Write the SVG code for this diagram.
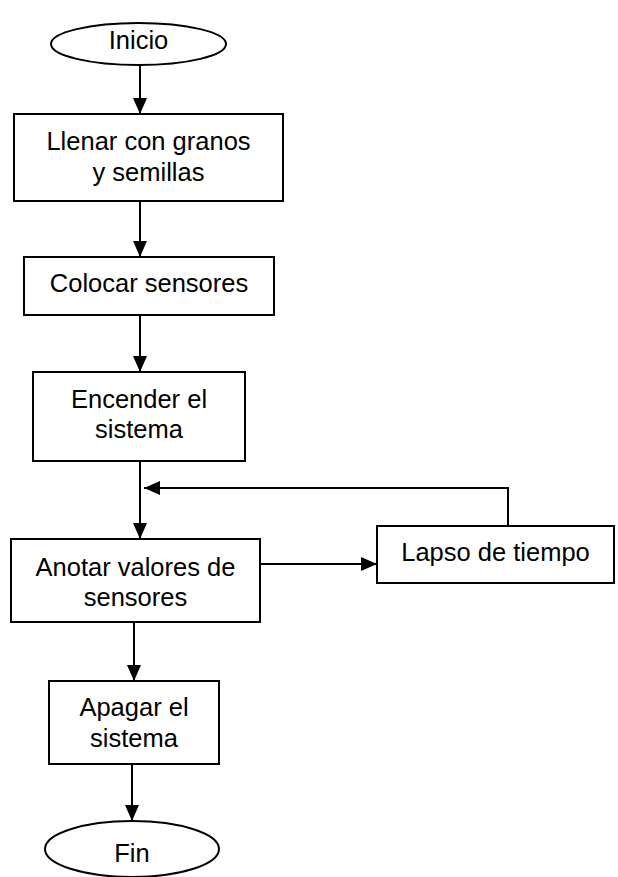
<svg xmlns="http://www.w3.org/2000/svg" width="618" height="877" viewBox="0 0 618 877">
<style>
.s{fill:#fff;stroke:#000;stroke-width:2}
.t{font-family:"Liberation Sans",Arial,sans-serif;font-size:25.5px;fill:#000;text-anchor:middle}
.c{fill:none;stroke:#000;stroke-width:2}
</style>
<defs>
<marker id="ah" markerUnits="userSpaceOnUse" markerWidth="16" markerHeight="14" refX="16" refY="7" orient="auto">
<path d="M0,0 L16,7 L0,14 z" fill="#000"/>
</marker>
</defs>
<rect width="618" height="877" fill="#fff"/>
<g id="connectors">
<path class="c" d="M140,65 V114" marker-end="url(#ah)"/>
<path class="c" d="M140,201 V257" marker-end="url(#ah)"/>
<path class="c" d="M140,315 V372" marker-end="url(#ah)"/>
<path class="c" d="M140,461 V539" marker-end="url(#ah)"/>
<path class="c" d="M508,526 V488 H144" marker-end="url(#ah)"/>
<path class="c" d="M260,564 H377" marker-end="url(#ah)"/>
<path class="c" d="M134,622 V681" marker-end="url(#ah)"/>
<path class="c" d="M132,764 V821" marker-end="url(#ah)"/>
</g>
<g id="inicio">
<ellipse class="s" cx="138.5" cy="44" rx="87.5" ry="21"/>
<text class="t" x="138.5" y="49">Inicio</text>
</g>
<g id="llenar">
<rect class="s" x="14" y="114" width="269" height="87"/>
<text class="t" x="148.5" y="150">Llenar con granos</text>
<text class="t" x="148.5" y="181">y semillas</text>
</g>
<g id="colocar">
<rect class="s" x="24" y="257" width="250" height="58"/>
<text class="t" x="149" y="292">Colocar sensores</text>
</g>
<g id="encender">
<rect class="s" x="33" y="372" width="212" height="89"/>
<text class="t" x="139" y="408">Encender el</text>
<text class="t" x="139" y="438">sistema</text>
</g>
<g id="anotar">
<rect class="s" x="11" y="539" width="249" height="83"/>
<text class="t" x="135.5" y="576">Anotar valores de</text>
<text class="t" x="135.5" y="606">sensores</text>
</g>
<g id="lapso">
<rect class="s" x="377" y="526" width="237" height="57"/>
<text class="t" x="495.5" y="561">Lapso de tiempo</text>
</g>
<g id="apagar">
<rect class="s" x="49" y="681" width="170" height="83"/>
<text class="t" x="134" y="716">Apagar el</text>
<text class="t" x="134" y="747">sistema</text>
</g>
<g id="fin">
<ellipse class="s" cx="132" cy="849" rx="87" ry="28"/>
<text class="t" x="132" y="862">Fin</text>
</g>
</svg>
